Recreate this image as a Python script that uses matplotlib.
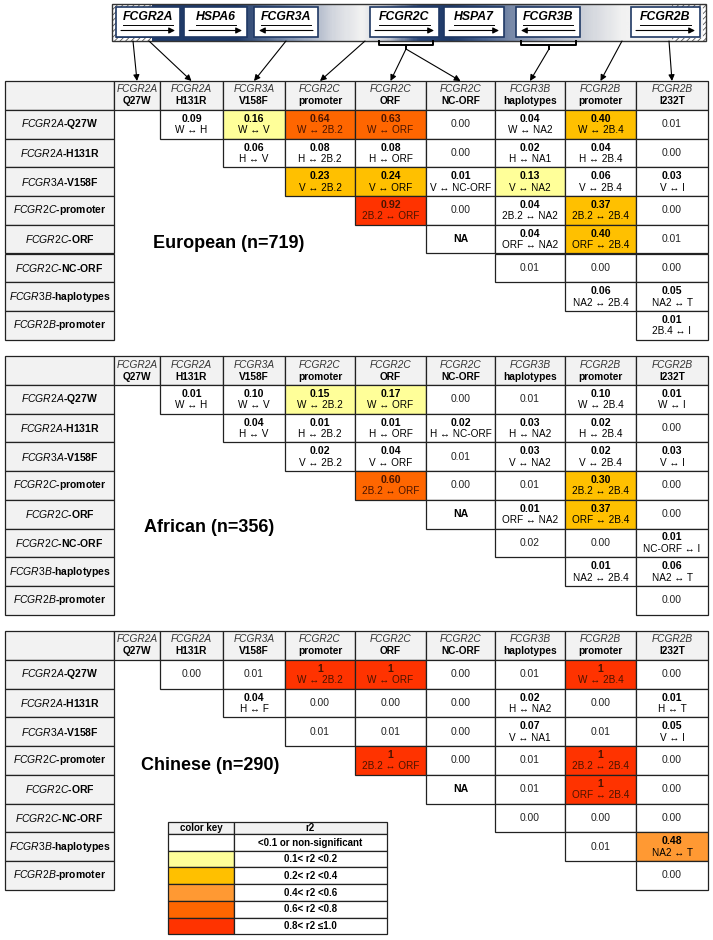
import numpy as np
import matplotlib.pyplot as plt
from matplotlib.patches import Rectangle
from matplotlib.colors import LinearSegmentedColormap

plt.rcParams['font.family'] = ['Liberation Sans', 'DejaVu Sans']
plt.rcParams['mathtext.fontset'] = 'custom'
plt.rcParams['mathtext.it'] = 'Liberation Sans:italic'
plt.rcParams['mathtext.rm'] = 'Liberation Sans'
plt.rcParams['mathtext.bf'] = 'Liberation Sans:bold'
plt.rcParams['hatch.linewidth'] = 0.6

# ---- data ----
col_genes = ['FCGR2A', 'FCGR2A', 'FCGR3A', 'FCGR2C', 'FCGR2C', 'FCGR2C', 'FCGR3B', 'FCGR2B', 'FCGR2B']
col_vars = ['Q27W', 'H131R', 'V158F', 'promoter', 'ORF', 'NC-ORF', 'haplotypes', 'promoter', 'I232T']
row_genes = ['FCGR2A', 'FCGR2A', 'FCGR3A', 'FCGR2C', 'FCGR2C', 'FCGR2C', 'FCGR3B', 'FCGR2B']
row_vars = ['Q27W', 'H131R', 'V158F', 'promoter', 'ORF', 'NC-ORF', 'haplotypes', 'promoter']

populations = ['European (n=719)', 'African (n=356)', 'Chinese (n=290)']

# "r2|pair" ; row i holds columns i+1 .. 8
european = [
    ['0.09|W ↔ H', '0.16|W ↔ V', '0.64|W ↔ 2B.2', '0.63|W ↔ ORF', '0.00', '0.04|W ↔ NA2', '0.40|W ↔ 2B.4', '0.01'],
    ['0.06|H ↔ V', '0.08|H ↔ 2B.2', '0.08|H ↔ ORF', '0.00', '0.02|H ↔ NA1', '0.04|H ↔ 2B.4', '0.00'],
    ['0.23|V ↔ 2B.2', '0.24|V ↔ ORF', '0.01|V ↔ NC-ORF', '0.13|V ↔ NA2', '0.06|V ↔ 2B.4', '0.03|V ↔ I'],
    ['0.92|2B.2 ↔ ORF', '0.00', '0.04|2B.2 ↔ NA2', '0.37|2B.2 ↔ 2B.4', '0.00'],
    ['NA', '0.04|ORF ↔ NA2', '0.40|ORF ↔ 2B.4', '0.01'],
    ['0.01', '0.00', '0.00'],
    ['0.06|NA2 ↔ 2B.4', '0.05|NA2 ↔ T'],
    ['0.01|2B.4 ↔ I'],
]
african = [
    ['0.01|W ↔ H', '0.10|W ↔ V', '0.15|W ↔ 2B.2', '0.17|W ↔ ORF', '0.00', '0.01', '0.10|W ↔ 2B.4', '0.01|W ↔ I'],
    ['0.04|H ↔ V', '0.01|H ↔ 2B.2', '0.01|H ↔ ORF', '0.02|H ↔ NC-ORF', '0.03|H ↔ NA2', '0.02|H ↔ 2B.4', '0.00'],
    ['0.02|V ↔ 2B.2', '0.04|V ↔ ORF', '0.01', '0.03|V ↔ NA2', '0.02|V ↔ 2B.4', '0.03|V ↔ I'],
    ['0.60|2B.2 ↔ ORF', '0.00', '0.01', '0.30|2B.2 ↔ 2B.4', '0.00'],
    ['NA', '0.01|ORF ↔ NA2', '0.37|ORF ↔ 2B.4', '0.00'],
    ['0.02', '0.00', '0.01|NC-ORF ↔ I'],
    ['0.01|NA2 ↔ 2B.4', '0.06|NA2 ↔ T'],
    ['0.00'],
]
chinese = [
    ['0.00', '0.01', '1|W ↔ 2B.2', '1|W ↔ ORF', '0.00', '0.01', '1|W ↔ 2B.4', '0.00'],
    ['0.04|H ↔ F', '0.00', '0.00', '0.00', '0.02|H ↔ NA2', '0.00', '0.01|H ↔ T'],
    ['0.01', '0.01', '0.00', '0.07|V ↔ NA1', '0.01', '0.05|V ↔ I'],
    ['1|2B.2 ↔ ORF', '0.00', '0.01', '1|2B.2 ↔ 2B.4', '0.00'],
    ['NA', '0.01', '1|ORF ↔ 2B.4', '0.00'],
    ['0.00', '0.00', '0.00'],
    ['0.01', '0.48|NA2 ↔ T'],
    ['0.00'],
]

# colour-key class of each cell (0 = white ... 5 = red)
european_shade = ['01440020', '0000000', '220100', '50020', '0020', '000', '00', '0']
african_shade = ['00110000', '0000000', '000000', '40020', '0020', '000', '00', '0']
chinese_shade = ['00550050', '0000000', '000000', '50050', '0050', '000', '03', '0']

key_labels = ['<0.1 or non-significant', '0.1< r2 <0.2', '0.2< r2 <0.4',
              '0.4< r2 <0.6', '0.6< r2 <0.8', '0.8< r2 ≤1.0']
key_colors = ['#ffffff', '#ffff99', '#ffc000', '#ff9933', '#ff6600', '#ff3300']

genes = ['FCGR2A', 'HSPA6', 'FCGR3A', 'FCGR2C', 'HSPA7', 'FCGR3B', 'FCGR2B']
strand = [1, 1, -1, 1, 1, -1, 1]

# ---- layout (pixels) ----
col_edges = [5, 114, 160, 223, 285, 355, 426, 495, 565, 636, 708]
table_tops = [81, 356, 631]
label_pos = [(229, 243), (209, 527), (210, 765)]
HDR_H, ROW_H = 29, 28.7
GREY = '#f2f2f2'
EDGE = '#222222'

fig = plt.figure(figsize=(7.13, 9.40), dpi=100)
ax = fig.add_axes([0, 0, 1, 1])
ax.set_xlim(0, 713)
ax.set_ylim(940, 0)
ax.axis('off')


def cell(x0, x1, y0, h, fc):
    ax.add_patch(Rectangle((x0, y0), x1 - x0, h, facecolor=fc, edgecolor=EDGE, lw=0.9, zorder=2))


def draw_table(top, cells, shade, label, lpos):
    # header row
    cell(col_edges[0], col_edges[1], top, HDR_H, GREY)
    for j in range(9):
        x0, x1 = col_edges[j + 1], col_edges[j + 2]
        cell(x0, x1, top, HDR_H, GREY)
        xc = (x0 + x1) / 2
        ax.text(xc, top + 8.5, col_genes[j], ha='center', va='center', fontsize=7.3,
                style='italic', color='#333333', zorder=3)
        ax.text(xc, top + 20.5, col_vars[j], ha='center', va='center', fontsize=7.3,
                fontweight='bold', zorder=3)
    # body
    for i in range(8):
        y0 = top + HDR_H + i * ROW_H
        yc = y0 + ROW_H / 2
        cell(col_edges[0], col_edges[1], y0, ROW_H, GREY)
        ax.text((col_edges[0] + col_edges[1]) / 2, yc,
                r'$\mathit{%s}$-%s' % (row_genes[i], row_vars[i]),
                ha='center', va='center', fontsize=7.5, fontweight='bold', zorder=3)
        for k, s in enumerate(cells[i]):
            j = i + 1 + k
            x0, x1 = col_edges[j + 1], col_edges[j + 2]
            lev = int(shade[i][k])
            cell(x0, x1, y0, ROW_H, key_colors[lev])
            xc = (x0 + x1) / 2
            tc = '#4a1400' if lev >= 4 else 'black'
            if '|' in s:
                val, pair = s.split('|')
                ax.text(xc, yc - 5.5, val, ha='center', va='center', fontsize=7.6,
                        fontweight='bold', color=tc, zorder=3)
                ax.text(xc, yc + 6, pair, ha='center', va='center', fontsize=7.2,
                        color=tc, zorder=3)
            elif s == 'NA':
                ax.text(xc, yc, s, ha='center', va='center', fontsize=7.6,
                        fontweight='bold', zorder=3)
            else:
                ax.text(xc, yc, s, ha='center', va='center', fontsize=7.4,
                        color='#222222', zorder=3)
    ax.text(lpos[0], lpos[1], label, ha='center', va='center', fontsize=13,
            fontweight='bold', zorder=3)


for top, cells_, shade_, lab, lp in zip(table_tops, [european, african, chinese],
                                        [european_shade, african_shade, chinese_shade],
                                        populations, label_pos):
    draw_table(top, cells_, shade_, lab, lp)

# ---- colour key ----
kx = [168, 234, 387]
ky = 822
cell(kx[0], kx[1], ky, 12, GREY)
cell(kx[1], kx[2], ky, 12, GREY)
ax.text((kx[0] + kx[1]) / 2, ky + 6, 'color key', ha='center', va='center', fontsize=7, fontweight='bold', zorder=3)
ax.text((kx[1] + kx[2]) / 2, ky + 6, 'r2', ha='center', va='center', fontsize=7, fontweight='bold', zorder=3)
for r, (lab, c) in enumerate(zip(key_labels, key_colors)):
    y0 = ky + 12 + r * 16.7
    cell(kx[0], kx[1], y0, 16.7, c)
    cell(kx[1], kx[2], y0, 16.7, 'white')
    ax.text((kx[1] + kx[2]) / 2, y0 + 8.5, lab, ha='center', va='center', fontsize=7,
            fontweight='bold', zorder=3)

# ---- gene map ----
D_TOP, D_BOT = 4, 41
stops = [(112, '#3a5888'), (140, '#1f3a68'), (235, '#1f3a68'), (285, '#7a8dac'),
         (335, '#d6d9e0'), (362, '#f2f2f2'), (388, '#c4c9d4'), (418, '#2a4575'),
         (452, '#1f3a68'), (485, '#4a6490'), (525, '#8e9bb4'), (585, '#cdd1d9'),
         (625, '#f2f2f2'), (706, '#f2f2f2')]
pos = [(x - 112) / (706 - 112) for x, _ in stops]
cmap = LinearSegmentedColormap.from_list('band', list(zip(pos, [c for _, c in stops])))
ax.imshow(np.linspace(0, 1, 300)[None, :], cmap=cmap, aspect='auto',
          extent=(112, 706, D_BOT, D_TOP), zorder=1)
ax.add_patch(Rectangle((112, D_TOP), 594, D_BOT - D_TOP, fc='none', ec='#333333', lw=1.0, zorder=4))
for (hx, hy, hw, hh) in [(112, D_TOP, 40, 3.5), (112, D_BOT - 3.5, 40, 3.5), (112, D_TOP, 3.5, D_BOT - D_TOP),
                         (672, D_TOP, 34, 3.5), (672, D_BOT - 3.5, 34, 3.5), (702.5, D_TOP, 3.5, D_BOT - D_TOP)]:
    ax.add_patch(Rectangle((hx, hy), hw, hh, fc='white', ec='#555555', hatch='//////', lw=0, zorder=2))

gene_x = [(116, 180), (184, 247), (254, 318), (370, 439), (444, 504), (516, 580), (631, 700)]
rend = fig.canvas.get_renderer()
inv = ax.transData.inverted()
for g, s, (x0, x1) in zip(genes, strand, gene_x):
    ax.add_patch(Rectangle((x0, 7), x1 - x0, 30, fc='white', ec='#1f3864', lw=1.2, zorder=3))
    t = ax.text((x0 + x1) / 2, 17.5, g, ha='center', va='center', fontsize=8.8,
                fontweight='bold', style='italic', zorder=5)
    bb = t.get_window_extent(renderer=rend)
    (ux0, _), (ux1, _) = inv.transform([(bb.x0, 0), (bb.x1, 0)])
    ax.plot([ux0, ux1], [24.5, 24.5], color='black', lw=0.7, zorder=5)
    a, b = (x0 + 5, x1 - 5) if s > 0 else (x1 - 5, x0 + 5)
    ax.annotate('', xy=(b, 30.5), xytext=(a, 30.5), zorder=5,
                arrowprops=dict(arrowstyle='-|>', color='black', lw=0.8,
                                mutation_scale=9, shrinkA=0, shrinkB=0))

# braces under FCGR2C and FCGR3B
for bx0, bx1 in [(379, 433), (521, 576)]:
    ax.plot([bx0, bx0, bx1, bx1], [D_BOT, D_BOT + 4, D_BOT + 4, D_BOT], color='black', lw=1.4, zorder=5)
    ax.plot([(bx0 + bx1) / 2] * 2, [D_BOT + 4, D_BOT + 8], color='black', lw=1.4, zorder=5)

# arrows from map to the column headers
centres = [(col_edges[j + 1] + col_edges[j + 2]) / 2 for j in range(9)]
links = [(133, D_BOT, 0), (149, D_BOT, 1), (286, D_BOT, 2), (365, D_BOT, 3),
         (406, D_BOT + 8, 4), (406, D_BOT + 8, 5), (549, D_BOT + 8, 6),
         (622, D_BOT, 7), (669, D_BOT, 8)]
for sx, sy, j in links:
    ax.annotate('', xy=(centres[j], table_tops[0]), xytext=(sx, sy), zorder=5,
                arrowprops=dict(arrowstyle='-|>', color='black', lw=0.8,
                                mutation_scale=9, shrinkA=0, shrinkB=0))

fig.savefig('out.png', dpi=100)
